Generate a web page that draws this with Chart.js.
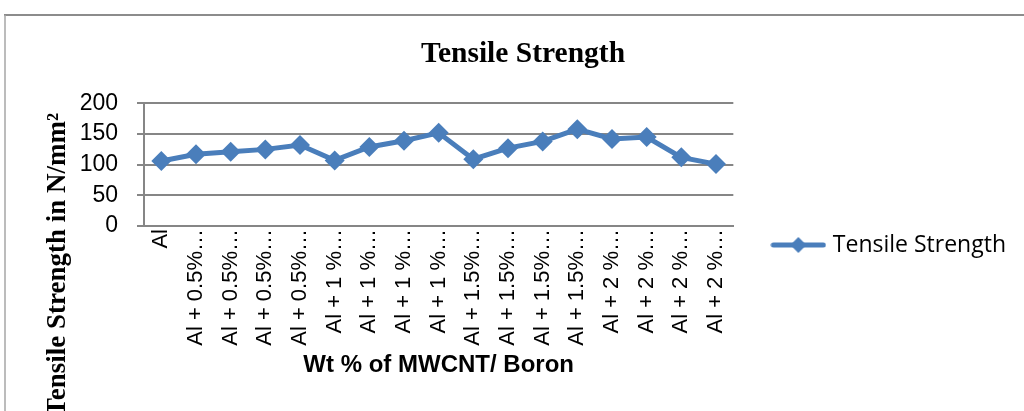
<!DOCTYPE html>
<html>
<head>
<meta charset="utf-8">
<script src="https://cdn.jsdelivr.net/npm/chart.js@4"></script>
<style>
  html, body { margin: 0; padding: 0; background: #fff; }
  #wrap { width: 1024px; height: 411px; }
</style>
</head>
<body>
<div id="wrap"><canvas id="tensileChart"></canvas></div>
<script>
const categories = [
    "Al",
    "Al + 0.5%…", "Al + 0.5%…", "Al + 0.5%…", "Al + 0.5%…",
    "Al + 1 %…", "Al + 1 %…", "Al + 1 %…", "Al + 1 %…",
    "Al + 1.5%…", "Al + 1.5%…", "Al + 1.5%…", "Al + 1.5%…",
    "Al + 2 %…", "Al + 2 %…", "Al + 2 %…", "Al + 2 %…"
];
const tensile = [106, 117, 121, 125, 132, 107, 129, 139, 152, 109, 127, 138, 158, 142, 145, 112, 101];
const yTicks = [0, 50, 100, 150, 200];

const blue = '#4a7ebb';
const grey = '#868686';

// legend symbol: line with a diamond in the middle
const legendMark = document.createElement('canvas');
legendMark.width = 56;
legendMark.height = 20;
(function () {
    const c = legendMark.getContext('2d');
    c.strokeStyle = blue;
    c.fillStyle = blue;
    c.lineWidth = 5;
    c.lineCap = 'round';
    c.beginPath();
    c.moveTo(3, 10);
    c.lineTo(53, 10);
    c.stroke();
    c.beginPath();
    c.moveTo(28, 2);
    c.lineTo(36, 10);
    c.lineTo(28, 18);
    c.lineTo(20, 10);
    c.closePath();
    c.fill();
})();

// frame and rotated y title, placed like the original
const extras = {
    id: 'extras',
    beforeDraw(chart) {
        const ctx = chart.ctx;
        ctx.save();
        ctx.strokeStyle = '#8c8c8c';
        ctx.lineWidth = 2;
        ctx.beginPath();
        ctx.moveTo(4, 15);
        ctx.lineTo(1024, 15);
        ctx.stroke();
        ctx.strokeStyle = '#a6a6a6';
        ctx.lineWidth = 1.5;
        ctx.beginPath();
        ctx.moveTo(5, 15);
        ctx.lineTo(5, 411);
        ctx.stroke();
        ctx.restore();
    },
    afterDraw(chart) {
        const ctx = chart.ctx;
        ctx.save();
        ctx.translate(65, 113);
        ctx.rotate(-Math.PI / 2);
        ctx.font = 'bold 27px "Liberation Serif"';
        ctx.fillStyle = '#000';
        ctx.textAlign = 'right';
        ctx.textBaseline = 'alphabetic';
        ctx.fillText('Tensile Strength in N/mm²', 0, 0);
        ctx.restore();
    }
};

const config = {
    type: 'line',
    data: {
        labels: categories,
        datasets: [{
            label: 'Tensile Strength',
            data: tensile,
            borderColor: blue,
            backgroundColor: blue,
            borderWidth: 5,
            tension: 0,
            pointStyle: 'rectRot',
            pointRadius: 10,
            pointHoverRadius: 10,
            pointBorderWidth: 0,
            pointBackgroundColor: blue
        }]
    },
    options: {
        responsive: true,
        maintainAspectRatio: false,
        animation: false,
        layout: {
            // top padding is large so the full-height legend centres where the original has it
            padding: { top: 80, left: 30, right: 8, bottom: 1 }
        },
        plugins: {
            title: {
                display: true,
                text: 'Tensile Strength',
                color: '#000',
                font: { family: '"Liberation Serif"', size: 29.5, weight: 'bold' },
                padding: { top: -43, bottom: 31 }
            },
            legend: {
                position: 'right',
                maxWidth: 320,
                labels: {
                    usePointStyle: true,
                    pointStyle: legendMark,
                    pointStyleWidth: 46,
                    padding: 42,
                    color: '#000',
                    font: { family: '"Open Sans"', size: 23 }
                }
            },
            tooltip: { enabled: false }
        },
        scales: {
            x: {
                offset: true,
                afterFit: (scale) => {
                    scale.height = 184;
                },
                grid: { display: false, drawTicks: false },
                border: { display: true, color: grey, width: 2 },
                ticks: {
                    autoSkip: false,
                    minRotation: 90,
                    maxRotation: 90,
                    padding: 3,
                    color: '#000',
                    font: { family: '"Liberation Sans"', size: 22 }
                },
                title: {
                    display: true,
                    text: 'Wt % of MWCNT/ Boron',
                    color: '#000',
                    font: { family: '"Liberation Sans"', size: 24, weight: 'bold' },
                    padding: { top: 2, bottom: 30 }
                }
            },
            y: {
                min: 0,
                max: 200,
                afterBuildTicks: (scale) => {
                    scale.ticks = yTicks.map(v => ({ value: v }));
                },
                afterFit: (scale) => {
                    scale.width = 114;
                },
                grid: { color: grey, lineWidth: 2, tickLength: 7 },
                border: { color: grey, width: 2 },
                ticks: {
                    autoSkip: false,
                    padding: 19,
                    color: '#000',
                    font: { family: '"Liberation Sans"', size: 23 }
                }
            }
        }
    },
    plugins: [extras]
};

const tensileChart = new Chart(document.getElementById('tensileChart'), config);
</script>
</body>
</html>
